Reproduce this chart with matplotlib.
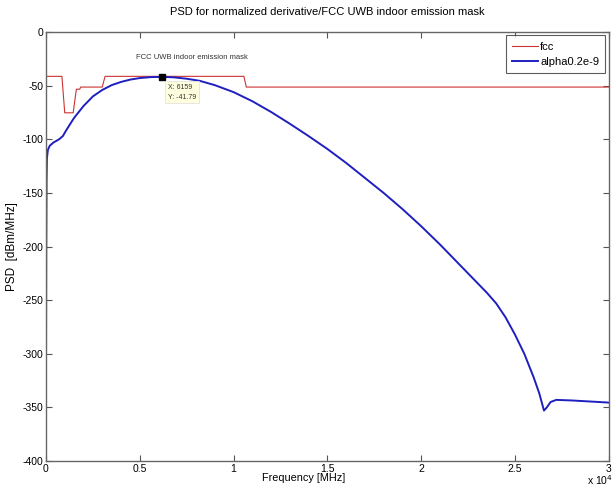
import numpy as np
import matplotlib
matplotlib.use('Agg')
import matplotlib.pyplot as plt

# FCC UWB indoor emission mask (MHz, dBm/MHz)
mask_f = [0, 850, 1000, 1450, 1620, 1800, 1850, 3000, 3150, 10550, 10680, 30000]
mask_v = [-41.3, -41.3, -75.3, -75.3, -53.3, -53.3, -51.3, -51.3, -41.3, -41.3, -51.3, -51.3]

# PSD of normalized derivative pulse, alpha = 0.2e-9
psd_f = [0, 5, 15, 30, 50, 100, 200, 400, 700, 900, 1100, 1500, 2000, 2500, 3000,
         3500, 4000, 4500, 5000, 5600, 6159, 6800, 7500, 8200, 9000, 10000, 11000,
         12000, 13000, 14000, 15000, 16000, 17000, 18000, 19000, 20000, 21000, 22000,
         23000, 23500, 24000, 24500, 25000, 25500, 26000, 26300, 26550, 26700, 26900,
         27200, 28000, 29000, 30000]
psd_v = [-321, -280, -200, -140, -118, -110, -106, -103, -100, -97, -91, -80, -69, -60, -54,
         -49.5, -46.5, -44.3, -42.9, -42.0, -41.79, -42.2, -43.5, -45.5, -49.5, -56, -64.5,
         -74.5, -85.5, -97, -109, -122, -136, -150, -165, -181, -198, -216,
         -234, -243, -253, -266, -282, -300, -322, -337, -353, -350, -345,
         -343, -343.5, -344.5, -345.5]

peak_f = 6159
peak_v = -41.79

plt.rcParams['font.family'] = ['Liberation Sans', 'DejaVu Sans']
plt.rcParams['font.size'] = 7.5
plt.rcParams['axes.unicode_minus'] = False

fig = plt.figure(figsize=(6.13, 4.88), dpi=100)
ax = fig.add_axes([0.075, 0.0553, 0.918, 0.879])

ax.plot(mask_f, mask_v, color='#cc3333', lw=0.8, label='fcc')
ax.plot(psd_f, psd_v, color='#1f1fc0', lw=1.4, label='alpha0.2e-9')
ax.plot(peak_f, peak_v, 's', color='k', ms=4)

ax.text(7800, -23.5, 'FCC UWB indoor emission mask', fontsize=5.5, color='#333333', ha='center', va='center')
ax.text(6500, -56, 'X: 6159\nY: -41.79', fontsize=5, color='#333333', ha='left', va='center',
        linespacing=1.6, bbox=dict(boxstyle='square,pad=0.4', fc='#ffffe0', ec='#dddddd', lw=0.5))

ax.set_xlim(0, 30000)
ax.set_ylim(-400, 0)
ax.set_xticks([0, 5000, 10000, 15000, 20000, 25000, 30000])
ax.set_xticklabels(['0', '0.5', '1', '1.5', '2', '2.5', '3'])
ax.set_yticks(np.arange(-400, 1, 50))
ax.tick_params(direction='in', top=True, right=True, length=4, width=0.8, color='#555555', pad=2)
for s in ax.spines.values():
    s.set_color('#666666')
    s.set_linewidth(1.0)

ax.set_title('PSD for normalized derivative/FCC UWB indoor emission mask', fontsize=8, pad=12)
ax.set_ylabel('PSD  [dBm/MHz]', fontsize=8.5, labelpad=3)
fig.text(0.496, 0.0205, 'Frequency [MHz]', fontsize=7.8, ha='center', va='center')
fig.text(0.958, 0.002, r'x 10$^4$', fontsize=7.5, ha='left', va='bottom')

leg = ax.legend(loc='upper right', fontsize=8, frameon=True, fancybox=False, handlelength=2.3,
                handletextpad=0.2, borderpad=0.55, labelspacing=0.45, borderaxespad=0.3)
leg.get_frame().set_edgecolor('#333333')
leg.get_frame().set_linewidth(0.8)

fig.savefig('out.png', dpi=100)
